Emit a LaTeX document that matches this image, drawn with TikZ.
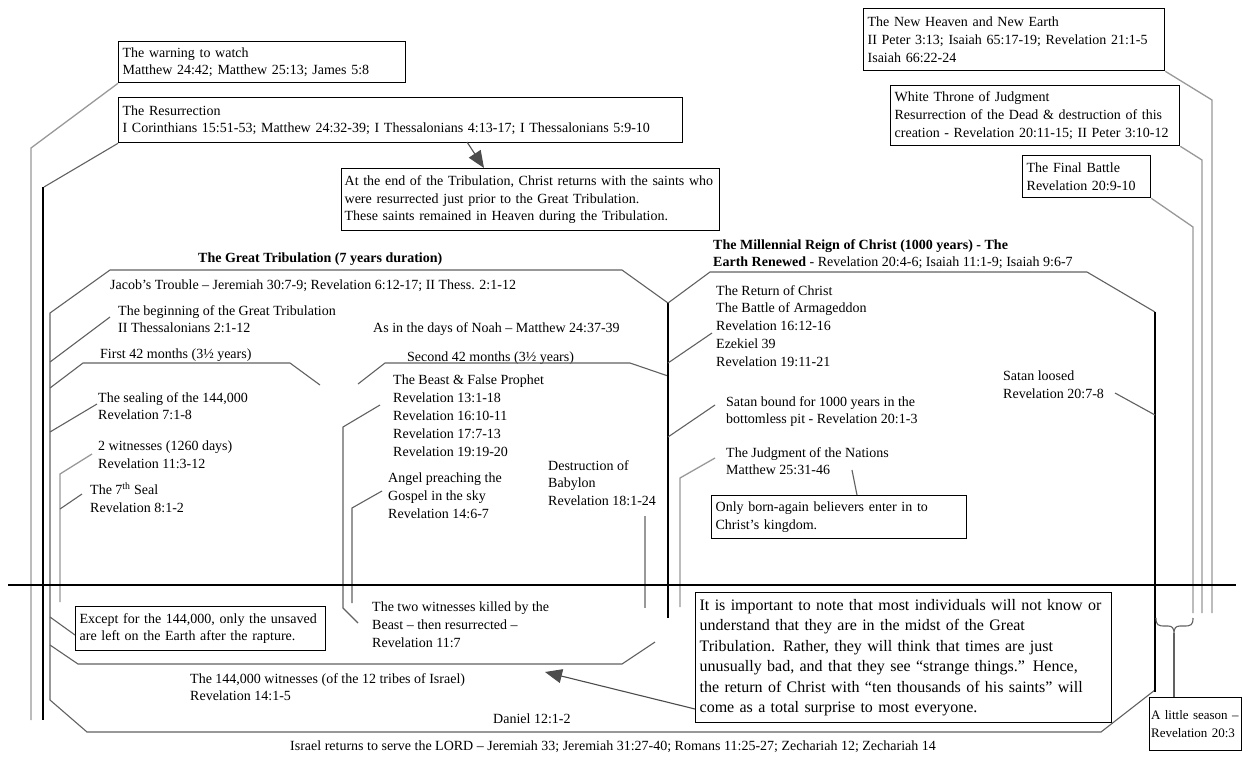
\documentclass[tikz,border=0pt]{standalone}
\usepackage{fontspec}
\setmainfont{Liberation Serif}
\usetikzlibrary{arrows.meta}
\begin{document}
\begin{tikzpicture}[x=1pt,y=-1pt,
  tf/.style={font=\fontsize{14}{17.8}\selectfont},
  tx/.style={tf, anchor=north west, inner sep=0pt, align=left, execute at begin node=\strut},
  bx/.style={draw=black, line width=1.3pt, anchor=north west, inner xsep=4pt, inner ysep=0pt, align=left, tf},
  conn/.style={draw=black!62, line width=1.1pt},
  lite/.style={draw=black!40, line width=1.3pt},
  heavy/.style={draw=black, line width=2.6pt},
  bigarrow/.style={draw=black!70, line width=1.1pt, -{Triangle[length=17pt,width=14pt]}},
]
\useasboundingbox (0,0) rectangle (1242,758);
\fill[white] (0,0) rectangle (1242,758);

% ---------- boxes ----------
\node[bx, minimum width=287pt, minimum height=41pt, text width=279pt] (warn) at (118,41)
  {The warning to watch\\Matthew 24:42; Matthew 25:13; James 5:8};
\node[bx, minimum width=564pt, minimum height=45pt, text width=556pt] (resur) at (118,97)
  {The Resurrection\\I Corinthians 15:51-53; Matthew 24:32-39; I Thessalonians 4:13-17; I Thessalonians 5:9-10};
\node[bx, inner xsep=3pt, minimum width=378pt, minimum height=62pt, text width=372pt] (atend) at (341,168)
  {At the end of the Tribulation, Christ returns with the saints who\\were resurrected just prior to the Great Tribulation.\\These saints remained in Heaven during the Tribulation.};
\node[bx, minimum width=301pt, minimum height=62pt, text width=293pt] (newh) at (863,8)
  {The New Heaven and New Earth\\II Peter 3:13; Isaiah 65:17-19; Revelation 21:1-5\\Isaiah 66:22-24};
\node[bx, minimum width=289pt, minimum height=60pt, text width=281pt] (white) at (890,85)
  {White Throne of Judgment\\Resurrection of the Dead \& destruction of this\\creation - Revelation 20:11-15; II Peter 3:10-12};
\node[bx, minimum width=128pt, minimum height=42pt, text width=120pt] (final) at (1022,155)
  {The Final Battle\\Revelation 20:9-10};
\node[bx, minimum width=255pt, minimum height=43pt, text width=247pt] (onlyb) at (711,495)
  {Only born-again believers enter in to\\Christ's kingdom.};
\node[bx, minimum width=250pt, minimum height=44pt, text width=242pt] (except) at (75,606)
  {Except for the 144,000, only the unsaved\\are left on the Earth after the rapture.};
\node[bx, font=\fontsize{16}{20.4}\selectfont, minimum width=416pt, minimum height=130pt, text width=408pt] (note) at (695,592)
  {It is important to note that most individuals will not know or\\understand that they are in the midst of the Great\\Tribulation. Rather, they will think that times are just\\unusually bad, and that they see “strange things.” Hence,\\the return of Christ with “ten thousands of his saints” will\\come as a total surprise to most everyone.};
\node[bx, font=\fontsize{13}{18}\selectfont, inner xsep=1.5pt, minimum width=92pt, minimum height=53pt, text width=89pt] (season) at (1149,697)
  {A little season –\\Revelation 20:3};

% ---------- titles ----------
\node[tx, font=\fontsize{14}{17.8}\selectfont\bfseries] (gttitle) at (198,250) {The Great Tribulation (7 years duration)};
\node[tx] (mrtitle) at (713,239) {\textbf{The Millennial Reign of Christ (1000 years) - The}\\\textbf{Earth Renewed} - Revelation 20:4-6; Isaiah 11:1-9; Isaiah 9:6-7};

% ---------- plain texts ----------
\node[tx] (jacob) at (110,277) {Jacob's Trouble – Jeremiah 30:7-9; Revelation 6:12-17; II Thess. 2:1-12};
\node[tx] (begin) at (118,305) {The beginning of the Great Tribulation\\II Thessalonians 2:1-12};
\node[tx] (first42) at (100,346) {First 42 months (3½ years)};
\node[tx] (noah) at (373,320) {As in the days of Noah – Matthew 24:37-39};
\node[tx] (second42) at (407,349) {Second 42 months (3½ years)};
\node[tx] (sealing) at (98,392) {The sealing of the 144,000\\Revelation 7:1-8};
\node[tx] (twowit) at (98,441) {2 witnesses (1260 days)\\Revelation 11:3-12};
\node[tx] (seal7) at (90,482) {The 7\textsuperscript{th} Seal\\Revelation 8:1-2};
\node[tx] (beast) at (393,375) {The Beast \& False Prophet\\Revelation 13:1-18\\Revelation 16:10-11\\Revelation 17:7-13\\Revelation 19:19-20};
\node[tx] (angel) at (388,473) {Angel preaching the\\Gospel in the sky\\Revelation 14:6-7};
\node[tx] (babylon) at (548,460) {Destruction of\\Babylon\\Revelation 18:1-24};
\node[tx] (return) at (716,285) {The Return of Christ\\The Battle of Armageddon\\Revelation 16:12-16\\Ezekiel 39\\Revelation 19:11-21};
\node[tx] (bound) at (726,396) {Satan bound for 1000 years in the\\bottomless pit - Revelation 20:1-3};
\node[tx] (judg) at (726,447) {The Judgment of the Nations\\Matthew 25:31-46};
\node[tx] (loosed) at (1003,371) {Satan loosed\\Revelation 20:7-8};
\node[tx] (killed) at (372,602) {The two witnesses killed by the\\Beast – then resurrected –\\Revelation 11:7};
\node[tx] (w144) at (190,673) {The 144,000 witnesses (of the 12 tribes of Israel)\\Revelation 14:1-5};
\node[tx] (daniel) at (493,711) {Daniel 12:1-2};
\node[tx] (israel) at (290,738) {Israel returns to serve the LORD – Jeremiah 33; Jeremiah 31:27-40; Romans 11:25-27; Zechariah 12; Zechariah 14};

% ---------- left timeline lines ----------
\draw[lite] (warn.south west) -- (31,148) -- (31,720);
\draw[conn] (resur.south west) -- (44,187);
\draw[heavy] (43,187) -- (43,720);
% Great Tribulation outline
\draw[conn] (668,303) -- (622,270) -- (110,270) -- (50,313) -- (50,700) -- (87,732) -- (1101,732) -- (1155,690);
\draw[conn] (50,362) -- (110,317);
\draw[conn] (50,388) -- (83,363) -- (290,363) -- (320,385);
\draw[conn] (50,432) -- (97,404);
\draw[conn] (50,617) -- (except.west |- 0,635);
\draw[conn] (50,645) -- (78,664) -- (622,664) -- (655,642);
\draw[lite] (92,454) -- (60,474) -- (60,602);
\draw[conn] (60,509) -- (82,494);
% second half
\draw[conn] (358,384) -- (385,363) -- (630,363) -- (668,376);
\draw[conn] (380,405) -- (343,427) -- (343,608) -- (358,623);
\draw[conn] (382,491) -- (352,508) -- (352,603);
\draw[lite] (645,516) -- (645,608);
\draw[heavy] (668,303) -- (668,618);
% Millennium
\draw[conn] (668,303) -- (710,272) -- (1087,272) -- (1155,312);
\draw[heavy] (1155,312) -- (1155,692);
\draw[conn] (668,363) -- (712,333);
\draw[conn] (668,437) -- (715,405);
\draw[lite] (715,458) -- (680,478) -- (680,607);
\draw[conn] (852,470) -- (onlyb.north -| 857,0);
\draw[conn] (1115,393) -- (1155,415);
% right side
\draw[lite] (final.south east) -- (1193,227) -- (1193,613);
\draw[lite] (white.south east) -- (1202,160) -- (1202,613);
\draw[lite] (newh.south east) -- (1212,100) -- (1212,613);
\draw[conn] (1156,618) .. controls (1156,625) and (1158,626) .. (1165,626) -- (1168,626)
  .. controls (1172,626) and (1174,628) .. (1174,633)
  .. controls (1174,628) and (1176,626) .. (1180,626) -- (1184,626)
  .. controls (1191,626) and (1193,625) .. (1193,618);
\draw[conn] (1174,633) -- (season.north -| 1174,0);

% now line
\draw[heavy, line width=2.4pt] (8,585) -- (1236,585);

% arrows
\draw[bigarrow] (467,142) -- (484,168);
\draw[bigarrow] (695,709) -- (545,672);
\end{tikzpicture}
\end{document}
